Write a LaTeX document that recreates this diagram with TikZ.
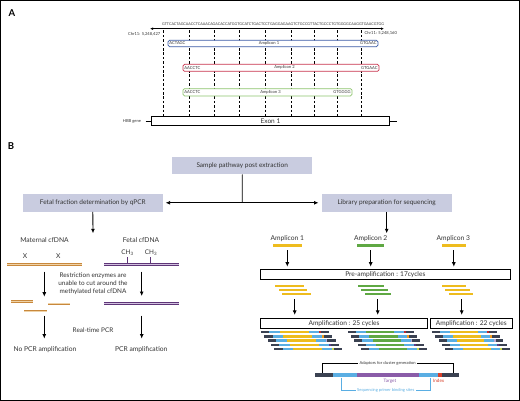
\documentclass[tikz,border=0pt]{standalone}
\usepackage{fontspec}
\setmainfont{Lato}
\usetikzlibrary{arrows.meta}
\definecolor{txt}{HTML}{333333}
\definecolor{lav}{HTML}{C9CCE0}
\definecolor{orng}{HTML}{C8883C}
\definecolor{lorng}{HTML}{EFD3A8}
\definecolor{purp}{HTML}{5E3577}
\definecolor{lpurp}{HTML}{D2C0E0}
\definecolor{yel}{HTML}{EEBC1E}
\definecolor{grn}{HTML}{5FA843}
\definecolor{lblue}{HTML}{5AAEE3}
\definecolor{adapt}{HTML}{3B4252}
\definecolor{tpurp}{HTML}{8A5CA8}
\definecolor{ired}{HTML}{D8402A}
\definecolor{ablue}{HTML}{3C5CA6}
\definecolor{ared}{HTML}{C8344E}
\definecolor{agrn}{HTML}{8DC46C}
\definecolor{ix1}{HTML}{C1272D}
\definecolor{ix2}{HTML}{F39A1E}
\definecolor{ix3}{HTML}{B7A6D6}
\definecolor{ix4}{HTML}{5B3A8A}
\definecolor{ix5}{HTML}{C9D94A}
\newcommand\fsz[1]{\fontsize{#1}{#1}\selectfont}
\newcommand\readrow[5]{%
  \begin{scope}[shift={(#1,#2)},xscale=#5/68]
    \fill[adapt] (0,0) rectangle (8.3,2.3);
    \fill[lblue] (8.3,0) rectangle (19,2.3);
    \fill[#3] (19,0) rectangle (48,2.3);
    \fill[lblue] (48,0) rectangle (58,2.3);
    \fill[#4] (58,0) rectangle (59.8,2.3);
    \fill[adapt] (59.8,0) rectangle (68,2.3);
  \end{scope}}
\newcommand\readgroup[3]{%
  \readrow{#1}{331}{#2}{ix1}{#3}
  \readrow{#1+3.3}{335.2}{#2}{ix2}{#3}
  \readrow{#1+6.6}{339.4}{#2}{ix3}{#3}
  \readrow{#1+9.9}{343.6}{#2}{ix4}{#3}
  \readrow{#1+13.2}{347.8}{#2}{ix5}{#3}}
\begin{document}
\begin{tikzpicture}[x=1pt,y=-1pt,
  lbl/.style={text=txt,inner sep=0pt,font=\fsz{6.4}},
  tiny/.style={text=txt,inner sep=0pt,font=\fsz{4.1}},
  lbox/.style={fill=lav,text=txt,inner sep=0pt,minimum height=17.6pt,font=\fsz{6.5}},
  wbox/.style={draw=black,line width=0.75pt,fill=white,text=txt,inner sep=0pt,minimum height=10pt,font=\fsz{6.6}},
  ampbox/.style={draw=#1,rounded corners=1.5pt,line width=0.75pt,fill=white,inner sep=0pt},
  arr/.style={-{Latex[length=4.5pt,width=4pt]},line width=0.85pt,draw=black},
  vdash/.style={line width=0.65pt,dash pattern=on 2.6pt off 1.8pt},
  matl/.style={draw=orng,double=lorng,line width=0.9pt,double distance=0.8pt},
  fetl/.style={draw=purp,double=lpurp,line width=0.9pt,double distance=0.8pt},
  bar/.style={fill=#1,inner sep=0pt,minimum height=2.6pt},
  pbar/.style={fill=#1,inner sep=0pt,minimum height=2.4pt}
]
\useasboundingbox (0,0) rectangle (520,401);
\fill[white] (0,0) rectangle (520,401);
\draw[line width=1.2pt] (0.6,0.6) rectangle (519.4,400.4);

% ---------------- Panel A ----------------
\node[anchor=center,inner sep=0pt,font=\bfseries\fsz{9.5}] (la) at (12,13) {A};
\node[tiny,font=\fsz{3.7}] (seq) at (273,24) {GTTCACTAGCAACCTCAAACAGACACCATGGTGCATCTGACTCCTGAGGAGAAGTCTGCCGTTACTGCCCTGTGGGGCAAGGTGAACGTGG};
\coordinate (sl) at (150,28.7);
\coordinate (sr) at (384,28.7);
\draw[{Latex[length=3pt,width=2.6pt]}-{Latex[length=3pt,width=2.6pt]},line width=0.75pt] (sl) -- (sr);
\node[tiny,anchor=east] (chl) at (160.5,34.3) {Chr11: 5,248,427};
\node[tiny,anchor=west] (chr) at (364.5,33.6) {Chr11: 5,248,160};
\foreach \xx in {163.7,189.7,214,239.3,265.3,291,314,337,361}
  \draw[vdash] (\xx,30.5) -- (\xx,116.3);
\draw[line width=0.85pt] (145.7,121) -- (396.7,121);
\node[tiny] (hbb) at (132,121) {HBB gene};
\node[draw=black,line width=0.85pt,fill=white,minimum width=237.6pt,minimum height=9pt,inner sep=0pt,text=txt,font=\fsz{6.5}] (exon) at (270.5,120.8) {Exon 1};
% amplicons
\node[ampbox=ablue,minimum width=210pt,minimum height=6.4pt] (a1) at (273,43.5) {};
\node[tiny,anchor=west] at ([xshift=1.6pt]a1.west) {ACTAGC};
\node[tiny,anchor=east] at ([xshift=-1.6pt]a1.east) {GTGAAC};
\node[tiny] at (269,43.5) {Amplicon 1};
\node[ampbox=ared,minimum width=196pt,minimum height=7pt] (a2) at (281,67.8) {};
\node[tiny,anchor=west] at ([xshift=1.6pt]a2.west) {AACCTC};
\node[tiny,anchor=east] at ([xshift=-1.6pt]a2.east) {GTGAAC};
\node[tiny] at (284.5,67.8) {Amplicon 2};
\node[ampbox=agrn,minimum width=169pt,minimum height=7.3pt] (a3) at (267.5,92.3) {};
\node[tiny,anchor=west] at ([xshift=1.6pt]a3.west) {AACCTC};
\node[tiny,anchor=east] at ([xshift=-1.6pt]a3.east) {GTGGGG};
\node[tiny] at (270.5,92.3) {Amplicon 3};

% ---------------- Panel B ----------------
\node[anchor=center,inner sep=0pt,font=\bfseries\fsz{9.5}] (lb) at (11,146.5) {B};
\node[lbox,minimum width=140.3pt] (sample) at (242.2,165.5) {Sample pathway post extraction};
\node[lbox,minimum width=140.3pt] (fetal) at (92.8,202.8) {Fetal fraction determination by qPCR};
\node[lbox,minimum width=130pt] (lib) at (386.7,202.8) {Library preparation for sequencing};
\coordinate (junc) at (242.3,202.8);
\draw[line width=0.85pt] (sample.south) -- (junc);
\draw[arr,shorten >=2.5pt] (junc) -- (fetal.east);
\draw[arr,shorten >=3pt] (junc) -- (lib.west);
\coordinate (fd) at (93,233.3);
\coordinate (ld) at (386.7,233.3);
\draw[arr] (fetal.south) -- (fd);
\draw[arr] (lib.south) -- (ld);

% left: qPCR
\node[lbl,font=\fsz{6.7}] (mat) at (44.5,240.3) {Maternal cfDNA};
\node[lbl,font=\fsz{6.7}] (fet) at (141,240.3) {Fetal cfDNA};
\node[lbl,font=\fsz{6.7}] (x1) at (25,256.5) {X};
\node[lbl,font=\fsz{6.7}] (x2) at (58.3,256.5) {X};
\node[lbl,font=\fsz{6.4}] (ch1) at (127.5,252.3) {CH\textsubscript{3}};
\node[lbl,font=\fsz{6.4}] (ch2) at (151,252.3) {CH\textsubscript{3}};
\draw[purp,line width=0.7pt] (127,257.5) -- (127,263.5);
\draw[purp,line width=0.7pt] (150.7,257.5) -- (150.7,263.5);
\draw[matl] (7.3,264.6) -- (81.7,264.6);
\draw[fetl] (104,264.6) -- (178.7,264.6);
\coordinate (m1a) at (44.3,271.7); \coordinate (m1b) at (44.3,296.7);
\coordinate (f1a) at (141.7,271.7); \coordinate (f1b) at (141.7,296);
\draw[arr] (m1a) -- (m1b);
\draw[arr] (f1a) -- (f1b);
\node[lbl,align=center,font=\fontsize{6.4}{8}\selectfont] (restr) at (93,284) {Restriction enzymes are\\unable to cut around the\\methylated fetal cfDNA};
\draw[matl] (11,301.5) -- (33.3,301.5);
\draw[matl] (48.3,303.8) -- (70.3,303.8);
\draw[matl] (24.3,311) -- (46.7,311);
\draw[fetl] (104,303.7) -- (178.7,303.7);
\coordinate (m2a) at (44.3,315.7); \coordinate (m2b) at (44.3,338.6);
\coordinate (f2a) at (141.7,315.7); \coordinate (f2b) at (141.7,338.6);
\draw[arr] (m2a) -- (m2b);
\draw[arr] (f2a) -- (f2b);
\node[lbl] (rt) at (93,330) {Real-time PCR};
\node[lbl,font=\fsz{6.7}] (nopcr) at (45,350) {No PCR amplification};
\node[lbl,font=\fsz{6.7}] (pcr) at (141.3,350) {PCR amplification};

% right: library
\node[lbl,font=\fsz{6.7}] (am1) at (287.3,238.7) {Amplicon 1};
\node[lbl,font=\fsz{6.7}] (am2) at (370.7,238.7) {Amplicon 2};
\node[lbl,font=\fsz{6.7}] (am3) at (453.3,238.7) {Amplicon 3};
\node[bar=yel,minimum width=29.3pt] (b1) at (287.3,245.6) {};
\node[bar=grn,minimum width=26.7pt] (b2) at (370.7,245.6) {};
\node[bar=yel,minimum width=24.3pt] (b3) at (453.8,245.6) {};
\node[wbox,minimum width=250pt] (pre) at (385.3,274.5) {Pre-amplification : 17cycles};
\foreach \i in {1,2,3}
  \draw[arr,shorten <=3pt,shorten >=2.4pt] (b\i.south) -- (b\i.south |- pre.north);
% staggered pre-amp products
\node[pbar=yel,minimum width=28.7pt,anchor=north west] (p11) at (275,284.3) {};
\node[pbar=yel,minimum width=28.7pt,anchor=north west] (p12) at (278.3,288.5) {};
\node[pbar=yel,minimum width=29pt,anchor=north west] (p13) at (281.7,292.7) {};
\node[pbar=grn,minimum width=26.7pt,anchor=north west] (p21) at (357.3,284.3) {};
\node[pbar=grn,minimum width=26.7pt,anchor=north west] (p22) at (360.7,288.5) {};
\node[pbar=grn,minimum width=26.4pt,anchor=north west] (p23) at (364.3,292.7) {};
\node[pbar=yel,minimum width=24.3pt,anchor=north west] (p31) at (441.7,284.3) {};
\node[pbar=yel,minimum width=24.3pt,anchor=north west] (p32) at (445,288.5) {};
\node[pbar=yel,minimum width=24pt,anchor=north west] (p33) at (448.7,292.7) {};
\node[wbox,minimum width=167.4pt] (amp25) at (344,323.3) {Amplification : 25 cycles};
\node[wbox,minimum width=82pt] (amp22) at (471.3,323.3) {Amplification : 22 cycles};
\coordinate (q1) at (294.7,299); \coordinate (q2) at (377.7,299); \coordinate (q3) at (461.7,299);
\draw[arr,shorten >=3pt] (q1) -- (q1 |- amp25.north);
\draw[arr,shorten >=3pt] (q2) -- (q2 |- amp25.north);
\draw[arr,shorten >=3pt] (q3) -- (q3 |- amp22.north);
% reads
\readgroup{261}{yel}{68}
\readgroup{347.7}{grn}{66}
\readgroup{432}{yel}{64.7}
% final construct
\fill[adapt] (315,372.7) rectangle (332.7,377);
\fill[lblue] (332.7,372.7) rectangle (356.7,377);
\fill[tpurp] (356.7,372.7) rectangle (419,377);
\fill[lblue] (419,372.7) rectangle (437.7,377);
\fill[ired] (437.7,372.7) rectangle (441.7,377);
\fill[adapt] (441.7,372.7) rectangle (458.7,377);
\coordinate (ad1) at (322.7,372.7); \coordinate (ad2) at (453.3,372.7);
\draw[line width=0.75pt] (ad1) -- (322.7,363.3) -- (453.3,363.3) -- (ad2);
\node[tiny,fill=white,inner xsep=1.5pt,inner ysep=0.8pt] (adlab) at (387.7,363.3) {Adaptors for cluster generation};
\node[tiny,text=tpurp,font=\fsz{4.6}] (tgt) at (390,381) {Target};
\node[tiny,text=ired,font=\fsz{4.6}] (idx) at (438.7,381) {Index};
\coordinate (sp1) at (341,377.5); \coordinate (sp2) at (430,377.5);
\draw[lblue,line width=0.75pt] (sp1) -- (341,390.5) -- (430,390.5) -- (sp2);
\node[tiny,text=lblue,fill=white,inner xsep=1.5pt,inner ysep=0.8pt] (splab) at (385.7,390.5) {Sequencing primer binding sites};
\end{tikzpicture}
\end{document}
